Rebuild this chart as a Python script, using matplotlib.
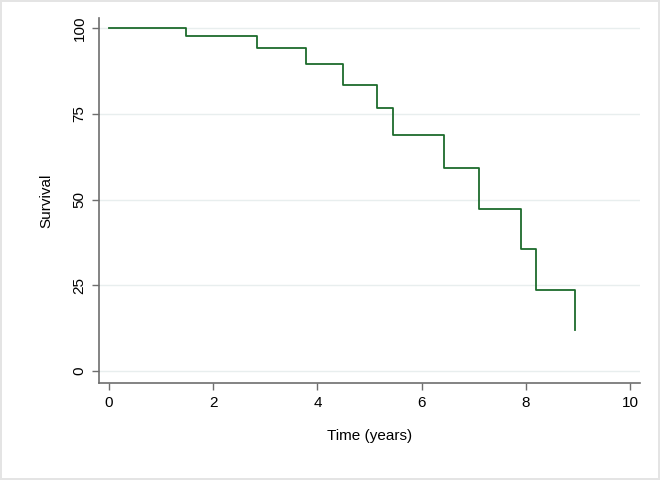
import matplotlib.pyplot as plt
import numpy as np

plt.rcParams['font.family'] = ['Liberation Sans', 'DejaVu Sans']

# Kaplan-Meier estimate
times = [0, 1.48, 2.84, 3.78, 4.49, 5.14, 5.45, 6.43, 7.10, 7.90, 8.20, 8.93]
survival = [100, 97.7, 94.2, 89.5, 83.4, 76.6, 68.9, 59.1, 47.3, 35.6, 23.7, 12.0]
x_ticks = [0, 2, 4, 6, 8, 10]
y_ticks = [0, 25, 50, 75, 100]

axis_grey = '#6e6e6e'

fig = plt.figure(figsize=(6.6, 4.8), dpi=100, facecolor='white',
                 edgecolor='#e4e4e4', linewidth=1.5)
ax = fig.add_axes([0.150, 0.202, 0.820, 0.760])

ax.step(times, survival, where='post', color='#1d6b2c', linewidth=1.3)

ax.set_xlim(-0.19, 10.19)
ax.set_ylim(-3.5, 102.9)
ax.set_xticks(x_ticks)
ax.set_yticks(y_ticks)
ax.set_yticklabels([str(v) for v in y_ticks], rotation=90, va='center')

ax.yaxis.grid(True, color='#e8eeee', linewidth=1)
ax.set_axisbelow(True)

for side in ['top', 'right']:
    ax.spines[side].set_visible(False)
for side in ['left', 'bottom']:
    ax.spines[side].set_color(axis_grey)
    ax.spines[side].set_linewidth(1.2)

ax.tick_params(axis='both', direction='out', length=5, width=1,
               color=axis_grey, labelsize=11, labelcolor='black', pad=4)

ax.set_xlabel('Time (years)', fontsize=11, labelpad=14)
ax.set_ylabel('Survival', fontsize=11, labelpad=14)

plt.savefig('out.png', dpi=100, facecolor=fig.get_facecolor(),
            edgecolor=fig.get_edgecolor())
